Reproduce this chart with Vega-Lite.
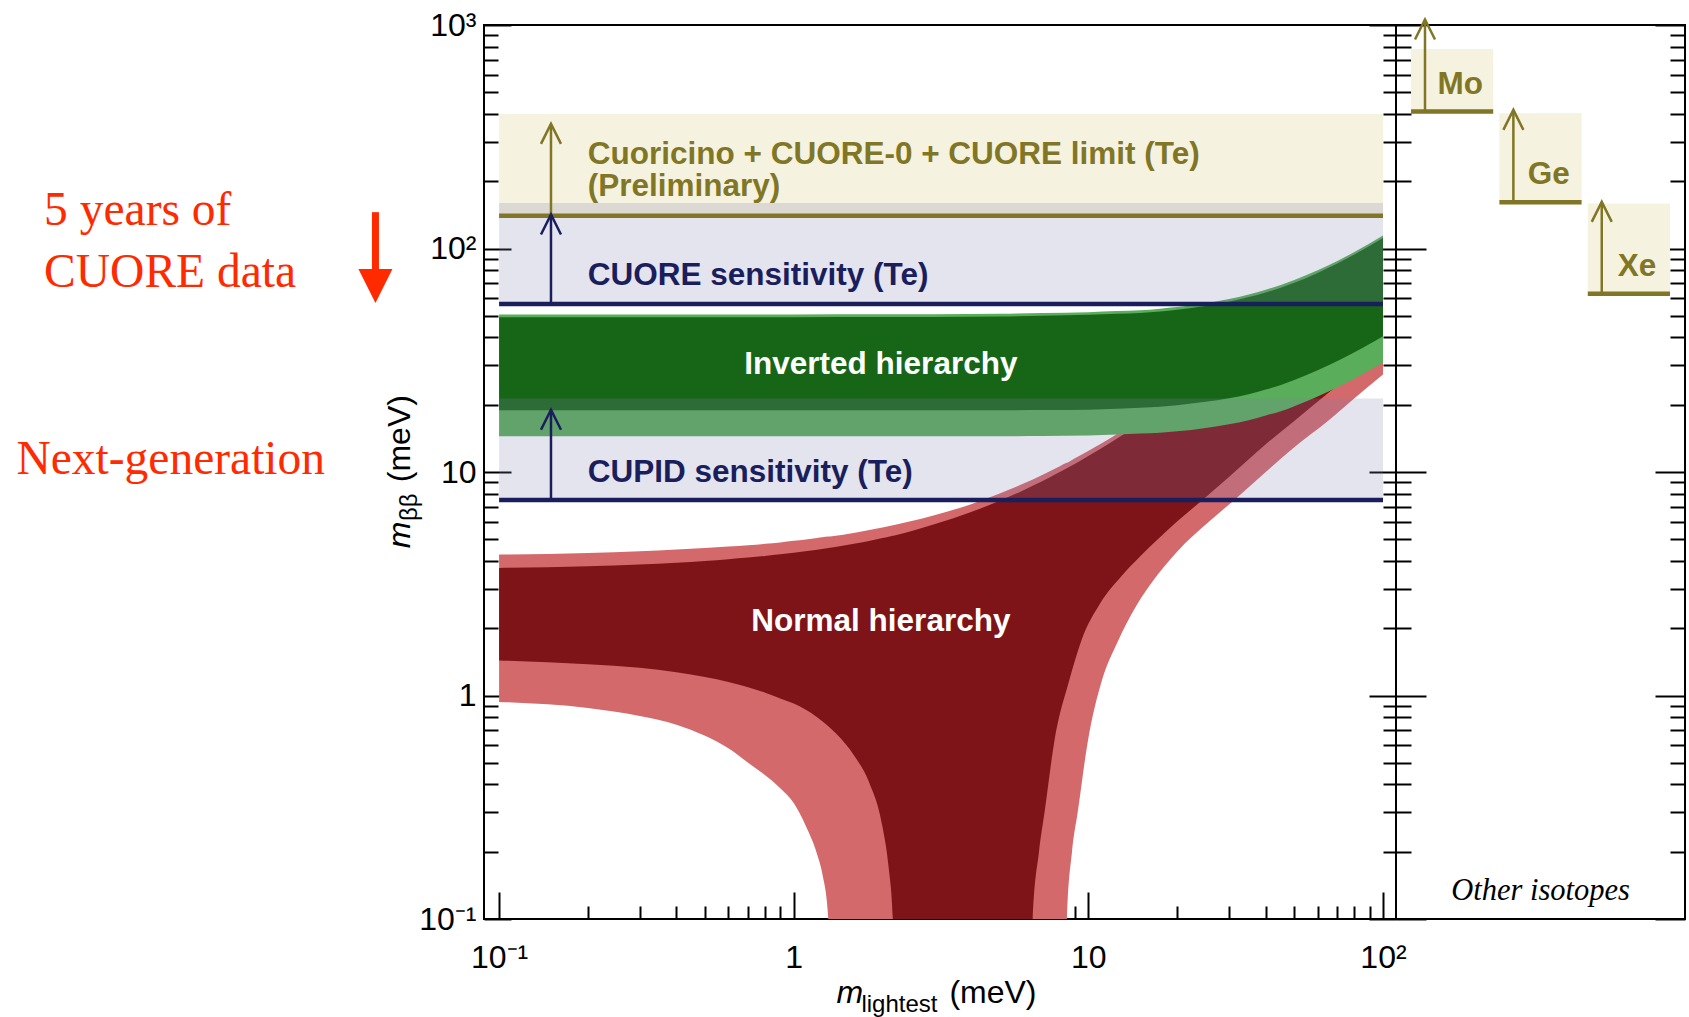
{
"$schema":"https://vega.github.io/schema/vega-lite/v6.json",
"background":"white",
"padding":{"left":15,"top":8,"right":0,"bottom":0},
"spacing":0,
"bounds":"flush",
"config":{"view":{"stroke":"black","strokeWidth":2},"axis":{"labelFont":"Liberation Sans","labelFontSize":32,"labelColor":"black","tickColor":"black","tickWidth":2,"grid":false,"domain":false,"labelFlush":false,"labelOverlap":false}},
"datasets":{
"bandTe":[{"x0":0.1,"x1":100,"lo":140,"hi":400}],
"bandLav":[{"x0":0.1,"x1":100,"lo":56.5,"hi":160},{"x0":0.1,"x1":100,"lo":7.5,"hi":21.3}],
"lines":[{"exp":"Te limit","x0":0.1,"x1":100,"y":140},{"exp":"CUORE","x0":0.1,"x1":100,"y":56.5},{"exp":"CUPID","x0":0.1,"x1":100,"y":7.5}],
"arrows":[{"exp":"Te limit","x":0.15,"from":140,"to":361},{"exp":"CUORE","x":0.15,"from":56.5,"to":142},{"exp":"CUPID","x":0.15,"from":7.5,"to":19.0}],
"nh3":[{"x":0.1,"lo":0.936,"hi":4.27},{"x":0.2,"lo":0.88,"hi":4.34},{"x":0.3,"lo":0.81,"hi":4.42},{"x":0.4,"lo":0.74,"hi":4.5},{"x":0.5,"lo":0.66,"hi":4.57},{"x":0.6,"lo":0.58,"hi":4.64},{"x":0.7,"lo":0.5,"hi":4.7},{"x":0.8,"lo":0.44,"hi":4.77},{"x":0.9,"lo":0.385,"hi":4.84},{"x":1.0,"lo":0.33,"hi":4.92},{"x":1.1,"lo":0.26,"hi":4.99},{"x":1.2,"lo":0.195,"hi":5.07},{"x":1.25,"lo":0.16,"hi":5.1},{"x":1.31,"lo":0.1,"hi":5.14},{"x":1.33,"lo":0.001,"hi":5.15},{"x":2,"lo":0.001,"hi":5.64},{"x":3,"lo":0.001,"hi":6.4},{"x":4,"lo":0.001,"hi":7.18},{"x":5,"lo":0.001,"hi":8.01},{"x":6,"lo":0.001,"hi":8.85},{"x":7,"lo":0.001,"hi":9.72},{"x":8,"lo":0.001,"hi":10.6},{"x":8.44,"lo":0.001,"hi":10.99},{"x":8.46,"lo":0.1,"hi":11.0},{"x":8.8,"lo":0.2,"hi":11.33},{"x":9.2,"lo":0.3,"hi":11.69},{"x":9.95,"lo":0.62,"hi":12.39},{"x":11.1,"lo":1.16,"hi":13.45},{"x":12.6,"lo":1.75,"hi":14.86},{"x":14.5,"lo":2.5,"hi":16.67},{"x":16.7,"lo":3.3,"hi":18.78},{"x":20,"lo":4.4,"hi":22.0},{"x":25.7,"lo":6.0,"hi":27.6},{"x":31.3,"lo":7.5,"hi":33.2},{"x":40,"lo":10.0,"hi":42.0},{"x":50,"lo":12.9,"hi":52.1},{"x":65,"lo":16.9,"hi":67.3},{"x":80,"lo":21.4,"hi":82.6},{"x":100,"lo":27.3,"hi":103}],
"nh1":[{"x":0.1,"lo":1.435,"hi":3.72},{"x":0.2,"lo":1.38,"hi":3.79},{"x":0.3,"lo":1.33,"hi":3.86},{"x":0.4,"lo":1.27,"hi":3.93},{"x":0.5,"lo":1.21,"hi":4.0},{"x":0.6,"lo":1.15,"hi":4.07},{"x":0.7,"lo":1.09,"hi":4.14},{"x":0.8,"lo":1.03,"hi":4.21},{"x":0.9,"lo":0.97,"hi":4.28},{"x":1.0,"lo":0.92,"hi":4.35},{"x":1.2,"lo":0.8,"hi":4.49},{"x":1.4,"lo":0.67,"hi":4.63},{"x":1.6,"lo":0.54,"hi":4.77},{"x":1.8,"lo":0.41,"hi":4.91},{"x":2.0,"lo":0.26,"hi":5.06},{"x":2.1,"lo":0.17,"hi":5.13},{"x":2.17,"lo":0.1,"hi":5.18},{"x":2.2,"lo":0.001,"hi":5.2},{"x":3,"lo":0.001,"hi":5.83},{"x":4,"lo":0.001,"hi":6.62},{"x":5,"lo":0.001,"hi":7.43},{"x":6,"lo":0.001,"hi":8.27},{"x":6.45,"lo":0.001,"hi":8.66},{"x":6.47,"lo":0.1,"hi":8.68},{"x":6.8,"lo":0.2,"hi":8.95},{"x":7.1,"lo":0.3,"hi":9.21},{"x":7.67,"lo":0.625,"hi":9.72},{"x":8.6,"lo":1.16,"hi":10.53},{"x":9.45,"lo":1.75,"hi":11.3},{"x":11,"lo":2.6,"hi":12.7},{"x":12.9,"lo":3.4,"hi":14.5},{"x":15,"lo":4.2,"hi":16.45},{"x":17.5,"lo":5.1,"hi":18.8},{"x":20,"lo":6.0,"hi":21.3},{"x":24.4,"lo":7.5,"hi":25.5},{"x":30,"lo":9.5,"hi":31.0},{"x":40,"lo":13.3,"hi":40.8},{"x":50,"lo":16.9,"hi":50.7},{"x":65,"lo":22.5,"hi":65.6},{"x":80,"lo":28.0,"hi":80.5},{"x":100,"lo":34.5,"hi":100.4}],
"ih3":[{"x":0.1,"lo":14.45,"hi":50.7},{"x":0.2,"lo":14.45,"hi":50.7},{"x":0.5,"lo":14.45,"hi":50.7},{"x":1,"lo":14.45,"hi":50.7},{"x":2,"lo":14.45,"hi":50.75},{"x":3,"lo":14.45,"hi":50.8},{"x":5,"lo":14.45,"hi":51.05},{"x":7,"lo":14.5,"hi":51.4},{"x":10,"lo":14.55,"hi":51.9},{"x":12.5,"lo":14.7,"hi":52.5},{"x":15,"lo":14.85,"hi":52.9},{"x":17.5,"lo":15.0,"hi":53.8},{"x":20,"lo":15.2,"hi":54.7},{"x":25,"lo":15.75,"hi":56.8},{"x":30,"lo":16.35,"hi":59.4},{"x":35,"lo":17.05,"hi":62.3},{"x":40,"lo":17.9,"hi":65.4},{"x":45,"lo":18.7,"hi":68.7},{"x":50,"lo":19.7,"hi":72.2},{"x":60,"lo":21.75,"hi":79.9},{"x":70,"lo":23.95,"hi":88.0},{"x":80,"lo":26.15,"hi":96.5},{"x":90,"lo":28.5,"hi":105.4},{"x":100,"lo":30.8,"hi":114.4}],
"ih1":[{"x":0.1,"lo":18.9,"hi":49.3},{"x":0.2,"lo":18.9,"hi":49.3},{"x":0.5,"lo":18.9,"hi":49.3},{"x":1,"lo":18.9,"hi":49.3},{"x":2,"lo":18.9,"hi":49.35},{"x":3,"lo":18.9,"hi":49.4},{"x":5,"lo":18.9,"hi":49.65},{"x":7,"lo":18.95,"hi":50.0},{"x":10,"lo":19.0,"hi":50.5},{"x":12.5,"lo":19.2,"hi":51.1},{"x":15,"lo":19.4,"hi":51.5},{"x":17.5,"lo":19.6,"hi":52.3},{"x":20,"lo":19.9,"hi":53.2},{"x":25,"lo":20.6,"hi":55.3},{"x":30,"lo":21.4,"hi":57.8},{"x":35,"lo":22.3,"hi":60.6},{"x":40,"lo":23.4,"hi":63.6},{"x":45,"lo":24.5,"hi":66.8},{"x":50,"lo":25.8,"hi":70.2},{"x":60,"lo":28.5,"hi":77.7},{"x":70,"lo":31.4,"hi":85.6},{"x":80,"lo":34.3,"hi":93.9},{"x":90,"lo":37.4,"hi":102.5},{"x":100,"lo":40.5,"hi":111.3}],
"iso":[{"iso":"Mo","limit":410,"top":781,"tip":1058},{"iso":"Ge","limit":161,"top":403,"tip":417},{"iso":"Xe","limit":62.7,"top":159,"tip":161.6}]
},
"hconcat":[
{
"width":912,"height":894,
"resolve":{"axis":{"x":"independent","y":"independent"}},
"layer":[
{"data":{"name":"bandTe"},"mark":{"type":"rect","color":"#f5f2e0"},
 "encoding":{
  "x":{"field":"x0","type":"quantitative","scale":{"type":"log","domain":[0.08887,110.7],"nice":false},"axis":{"orient":"bottom","values":[0.1,1,10,100],"ticks":false,"labelPadding":23,"labelExpr":"datum.value < 0.5 ? '10⁻¹' : datum.value < 5 ? '1' : datum.value < 50 ? '10' : '10²'","title":null}},
  "x2":{"field":"x1"},
  "y":{"field":"lo","type":"quantitative","scale":{"type":"log","domain":[0.1,1000],"nice":false},"axis":{"orient":"left","values":[0.1,1,10,100,1000],"ticks":false,"labelPadding":8,"labelExpr":"datum.value < 0.5 ? '10⁻¹' : datum.value < 5 ? '1' : datum.value < 50 ? '10' : datum.value < 500 ? '10²' : '10³'","title":null}},
  "y2":{"field":"hi"}}},
{"data":{"name":"nh3"},"mark":{"type":"area","color":"#d4696c","clip":true,"interpolate":"monotone"},
 "encoding":{
  "x":{"field":"x","type":"quantitative","scale":{"type":"log","domain":[0.08887,110.7],"nice":false},"axis":{"orient":"bottom","values":[0.1,1,10,100],"labels":false,"offset":-27,"tickSize":27,"title":null}},
  "y":{"field":"lo","type":"quantitative","stack":null,"scale":{"type":"log","domain":[0.1,1000],"nice":false},"axis":{"orient":"left","values":[0.1,1,10,100,1000],"labels":false,"offset":-27,"tickSize":27,"title":null}},
  "y2":{"field":"hi"}}},
{"data":{"name":"nh1"},"mark":{"type":"area","color":"#7e1418","clip":true,"interpolate":"monotone"},
 "encoding":{
  "x":{"field":"x","type":"quantitative","scale":{"type":"log","domain":[0.08887,110.7],"nice":false},"axis":{"orient":"bottom","values":[0.2,0.3,0.4,0.5,0.6,0.7,0.8,0.9,2,3,4,5,6,7,8,9,20,30,40,50,60,70,80,90],"labels":false,"offset":-13,"tickSize":13,"title":null}},
  "y":{"field":"lo","type":"quantitative","stack":null,"scale":{"type":"log","domain":[0.1,1000],"nice":false},"axis":{"orient":"left","values":[0.2,0.3,0.4,0.5,0.6,0.7,0.8,0.9,2,3,4,5,6,7,8,9,20,30,40,50,60,70,80,90,200,300,400,500,600,700,800,900],"labels":false,"offset":-14,"tickSize":14,"title":null}},
  "y2":{"field":"hi"}}},
{"data":{"name":"ih3"},"mark":{"type":"area","color":"#5aad5a","clip":true,"interpolate":"monotone"},
 "encoding":{
  "x":{"field":"x","type":"quantitative","axis":null},
  "y":{"field":"lo","type":"quantitative","stack":null,"axis":{"orient":"right","values":[0.1,1,10,100,1000],"labels":false,"offset":-27,"tickSize":27,"title":null}},
  "y2":{"field":"hi"}}},
{"data":{"name":"ih1"},"mark":{"type":"area","color":"#176617","clip":true,"interpolate":"monotone"},
 "encoding":{
  "x":{"field":"x","type":"quantitative","axis":null},
  "y":{"field":"lo","type":"quantitative","stack":null,"axis":{"orient":"right","values":[0.2,0.3,0.4,0.5,0.6,0.7,0.8,0.9,2,3,4,5,6,7,8,9,20,30,40,50,60,70,80,90,200,300,400,500,600,700,800,900],"labels":false,"offset":-13,"tickSize":13,"title":null}},
  "y2":{"field":"hi"}}},
{"data":{"name":"bandLav"},"mark":{"type":"rect","color":"#7f7fae","opacity":0.21},
 "encoding":{"x":{"field":"x0","type":"quantitative","axis":null},"x2":{"field":"x1"},"y":{"field":"lo","type":"quantitative","axis":null},"y2":{"field":"hi"}}},
{"data":{"name":"lines"},"mark":{"type":"rule","strokeWidth":4.5},
 "encoding":{"x":{"field":"x0","type":"quantitative","axis":null},"x2":{"field":"x1"},"y":{"field":"y","type":"quantitative","axis":null},
  "color":{"field":"exp","type":"nominal","legend":null,"scale":{"domain":["Te limit","CUORE","CUPID"],"range":["#807625","#1b1e5c","#1b1e5c"]}}}},
{"data":{"name":"arrows"},"mark":{"type":"rule","strokeWidth":2.5},
 "encoding":{"x":{"field":"x","type":"quantitative","axis":null},"y":{"field":"from","type":"quantitative","axis":null},"y2":{"field":"to"},
  "color":{"field":"exp","type":"nominal","legend":null,"scale":{"domain":["Te limit","CUORE","CUPID"],"range":["#807625","#1b1e5c","#1b1e5c"]}}}},
{"data":{"name":"arrows"},"mark":{"type":"point","shape":"M -1 2 L 0 0 L 1 2","filled":false,"size":400,"strokeWidth":2.5,"opacity":1},
 "encoding":{"x":{"field":"x","type":"quantitative","axis":null},"y":{"field":"to","type":"quantitative","axis":null},
  "color":{"field":"exp","type":"nominal","legend":null,"scale":{"domain":["Te limit","CUORE","CUPID"],"range":["#807625","#1b1e5c","#1b1e5c"]}}}},
{"data":{"values":[{"t":"Cuoricino + CUORE-0 + CUORE limit (Te)","x":0.2,"y":240},{"t":"(Preliminary)","x":0.2,"y":171}]},
 "mark":{"type":"text","font":"Liberation Sans","fontWeight":"bold","fontSize":31.5,"align":"left","baseline":"alphabetic","color":"#807625"},
 "encoding":{"text":{"field":"t"},"x":{"field":"x","type":"quantitative","axis":null},"y":{"field":"y","type":"quantitative","axis":null}}},
{"data":{"values":[{"t":"CUORE sensitivity (Te)","x":0.2,"y":68.5},{"t":"CUPID sensitivity (Te)","x":0.2,"y":9.0}]},
 "mark":{"type":"text","font":"Liberation Sans","fontWeight":"bold","fontSize":31.5,"align":"left","baseline":"alphabetic","color":"#1b1e5c"},
 "encoding":{"text":{"field":"t"},"x":{"field":"x","type":"quantitative","axis":null},"y":{"field":"y","type":"quantitative","axis":null}}},
{"data":{"values":[{"t":"Inverted hierarchy","x":1.976,"y":27.5},{"t":"Normal hierarchy","x":1.976,"y":1.94}]},
 "mark":{"type":"text","font":"Liberation Sans","fontWeight":"bold","fontSize":31.5,"align":"center","baseline":"alphabetic","color":"white"},
 "encoding":{"text":{"field":"t"},"x":{"field":"x","type":"quantitative","axis":null},"y":{"field":"y","type":"quantitative","axis":null}}},
{"data":{"values":[{"t":"5 years of","x":0.002856,"y":127.2},{"t":"CUORE data","x":0.002856,"y":67.3},{"t":"Next-generation","x":0.0023,"y":9.81}]},
 "mark":{"type":"text","font":"Liberation Serif","fontSize":47.5,"align":"left","baseline":"alphabetic","color":"#ff2a00"},
 "encoding":{"text":{"field":"t"},"x":{"field":"x","type":"quantitative","axis":null},"y":{"field":"y","type":"quantitative","axis":null}}},
{"data":{"values":[{"x":0.03805,"top":145.4,"bot":79.1,"tip":57.1}]},
 "mark":{"type":"rule","strokeWidth":7,"color":"#ff2a00"},
 "encoding":{"x":{"field":"x","type":"quantitative","axis":null},"y":{"field":"top","type":"quantitative","axis":null},"y2":{"field":"bot"}}},
{"data":{"values":[{"x":0.03805,"top":145.4,"bot":79.1,"tip":57.1}]},
 "mark":{"type":"point","shape":"M -1 -2 L 1 -2 L 0 0 Z","filled":true,"size":1156,"color":"#ff2a00","opacity":1},
 "encoding":{"x":{"field":"x","type":"quantitative","axis":null},"y":{"field":"tip","type":"quantitative","axis":null}}},
{"data":{"values":[{"t":"m","x":0.05,"y":4.56}]},
 "mark":{"type":"text","font":"Liberation Sans","fontStyle":"italic","fontSize":32,"angle":270,"align":"left","baseline":"alphabetic","color":"black"},
 "encoding":{"text":{"field":"t"},"x":{"field":"x","type":"quantitative","axis":null},"y":{"field":"y","type":"quantitative","axis":null}}},
{"data":{"values":[{"t":"ββ","x":0.0528,"y":6.03}]},
 "mark":{"type":"text","font":"Liberation Sans","fontSize":24,"angle":270,"align":"left","baseline":"alphabetic","color":"black"},
 "encoding":{"text":{"field":"t"},"x":{"field":"x","type":"quantitative","axis":null},"y":{"field":"y","type":"quantitative","axis":null}}},
{"data":{"values":[{"t":"(meV)","x":0.05,"y":9.0}]},
 "mark":{"type":"text","font":"Liberation Sans","fontSize":32,"angle":270,"align":"left","baseline":"alphabetic","color":"black"},
 "encoding":{"text":{"field":"t"},"x":{"field":"x","type":"quantitative","axis":null},"y":{"field":"y","type":"quantitative","axis":null}}},
{"data":{"values":[{"t":"m","x":1.396,"y":0.04212}]},
 "mark":{"type":"text","font":"Liberation Sans","fontStyle":"italic","fontSize":32,"align":"left","baseline":"alphabetic","color":"black"},
 "encoding":{"text":{"field":"t"},"x":{"field":"x","type":"quantitative","axis":null},"y":{"field":"y","type":"quantitative","axis":null}}},
{"data":{"values":[{"t":"lightest","x":1.697,"y":0.0383}]},
 "mark":{"type":"text","font":"Liberation Sans","fontSize":24,"align":"left","baseline":"alphabetic","color":"black"},
 "encoding":{"text":{"field":"t"},"x":{"field":"x","type":"quantitative","axis":null},"y":{"field":"y","type":"quantitative","axis":null}}},
{"data":{"values":[{"t":"(meV)","x":3.376,"y":0.04212}]},
 "mark":{"type":"text","font":"Liberation Sans","fontSize":32,"align":"left","baseline":"alphabetic","color":"black"},
 "encoding":{"text":{"field":"t"},"x":{"field":"x","type":"quantitative","axis":null},"y":{"field":"y","type":"quantitative","axis":null}}}
]
},
{
"width":289,"height":894,
"resolve":{"axis":{"y":"independent"}},
"layer":[
{"data":{"name":"iso"},"mark":{"type":"rect","color":"#f5f2e0"},
 "encoding":{
  "x":{"field":"iso","type":"nominal","scale":{"domain":["Mo","Ge","Xe"],"paddingInner":0.07,"paddingOuter":0.17},"axis":null},
  "y":{"field":"limit","type":"quantitative","scale":{"type":"log","domain":[0.1,1000],"nice":false},"axis":{"orient":"left","values":[0.1,1,10,100,1000],"labels":false,"offset":-30,"tickSize":30,"title":null}},
  "y2":{"field":"top"}}},
{"data":{"name":"iso"},"mark":{"type":"rect","fill":"transparent","stroke":"#807625","strokeWidth":4.5},
 "encoding":{
  "x":{"field":"iso","type":"nominal","axis":null},
  "y":{"field":"limit","type":"quantitative","axis":{"orient":"left","values":[0.2,0.3,0.4,0.5,0.6,0.7,0.8,0.9,2,3,4,5,6,7,8,9,20,30,40,50,60,70,80,90,200,300,400,500,600,700,800,900],"labels":false,"offset":-15,"tickSize":15,"title":null}},
  "y2":{"field":"limit"}}},
{"data":{"name":"iso"},"mark":{"type":"rule","strokeWidth":2.5,"color":"#807625"},
 "encoding":{
  "x":{"field":"iso","type":"nominal","bandPosition":0.17,"axis":null},
  "y":{"field":"limit","type":"quantitative","axis":{"orient":"right","values":[0.1,1,10,100,1000],"labels":false,"offset":-30,"tickSize":30,"title":null}},
  "y2":{"field":"tip"}}},
{"data":{"name":"iso"},"mark":{"type":"point","shape":"M -1 2 L 0 0 L 1 2","filled":false,"size":400,"strokeWidth":2.5,"color":"#807625","opacity":1},
 "encoding":{
  "x":{"field":"iso","type":"nominal","bandPosition":0.17,"axis":null},
  "y":{"field":"tip","type":"quantitative","axis":{"orient":"right","values":[0.2,0.3,0.4,0.5,0.6,0.7,0.8,0.9,2,3,4,5,6,7,8,9,20,30,40,50,60,70,80,90,200,300,400,500,600,700,800,900],"labels":false,"offset":-15,"tickSize":15,"title":null}}}},
{"data":{"name":"iso"},"mark":{"type":"text","font":"Liberation Sans","fontWeight":"bold","fontSize":31.5,"align":"center","baseline":"alphabetic","dy":-18,"color":"#807625"},
 "encoding":{
  "text":{"field":"iso"},
  "x":{"field":"iso","type":"nominal","bandPosition":0.6,"axis":null},
  "y":{"field":"limit","type":"quantitative","axis":null}}},
{"data":{"values":[{"t":"Other isotopes"}]},"mark":{"type":"text","font":"Liberation Serif","fontStyle":"italic","fontSize":30.5,"align":"center","baseline":"alphabetic","color":"black"},
 "encoding":{
  "text":{"field":"t"},
  "x":{"datum":"Ge","type":"nominal","axis":null},
  "y":{"datum":0.1222,"type":"quantitative","axis":null}}}
]
}
]
}
